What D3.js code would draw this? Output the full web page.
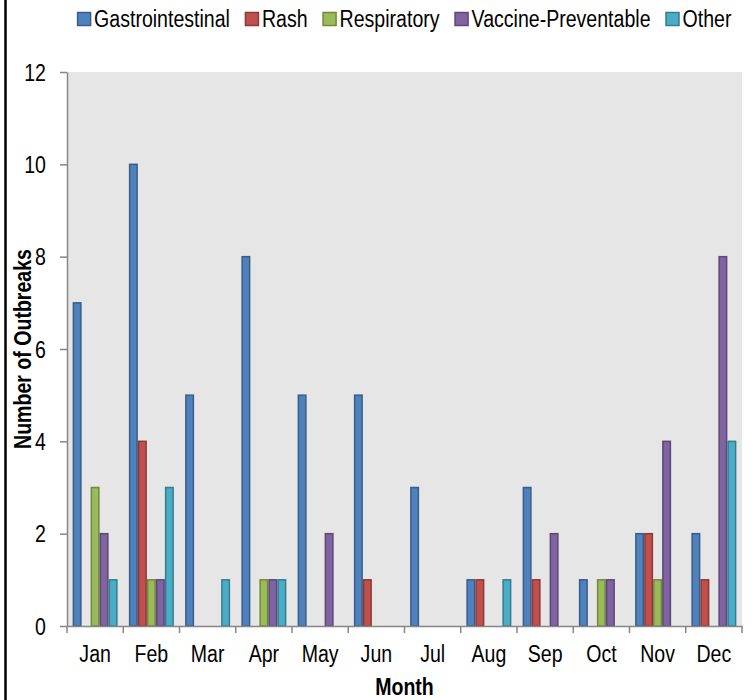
<!DOCTYPE html>
<html lang="en">
<head>
  <meta charset="UTF-8" />
  <title>Outbreaks by Month</title>
  <script src="https://d3js.org/d3.v7.min.js"></script>
  <style>
    body { margin: 0; background: #fff; }
    svg text { font-family: "Liberation Sans", Arial, sans-serif; fill: #000; }
    .axis path, .axis line { stroke: #868686; stroke-width: 1.5px; }
  </style>
</head>
<body>
<svg id="chart" width="753" height="700"></svg>
<script>
const months = ["Jan", "Feb", "Mar", "Apr", "May", "Jun", "Jul", "Aug", "Sep", "Oct", "Nov", "Dec"];
const seriesNames = ["Gastrointestinal", "Rash", "Respiratory", "Vaccine-Preventable", "Other"];
const gastrointestinal = [7, 10, 5, 8, 5, 5, 3, 1, 3, 1, 2, 2];
const rash = [0, 4, 0, 0, 0, 1, 0, 1, 1, 0, 2, 1];
const respiratory = [3, 1, 0, 1, 0, 0, 0, 0, 0, 1, 1, 0];
const vaccinePreventable = [2, 1, 0, 1, 2, 0, 0, 0, 2, 1, 4, 8];
const other = [1, 3, 1, 1, 0, 0, 0, 1, 0, 0, 0, 4];
const yTicks = [0, 2, 4, 6, 8, 10, 12];

const fills = ["#4f81bd", "#c0504d", "#9bbb59", "#8064a2", "#4bacc6"];
const strokes = ["#385d8a", "#8c3836", "#71893f", "#5c4776", "#357d91"];
const seriesValues = [gastrointestinal, rash, respiratory, vaccinePreventable, other];

const svg = d3.select("#chart");
const margin = {left: 67, right: 11, top: 72, bottom: 74};
const width = 753, height = 700;
const squeeze = 0.85;

// no narrow font installed: squeeze the glyphs to an Arial Narrow width
function narrow(sel) {
  sel.each(function () {
    const len = this.getComputedTextLength();
    d3.select(this).attr("textLength", len * squeeze).attr("lengthAdjust", "spacingAndGlyphs");
  });
}

const x = d3.scaleBand().domain(months).range([margin.left, width - margin.right]).padding(0);
const inner = d3.scaleBand().domain(seriesNames)
  .range([x.bandwidth() * 0.1, x.bandwidth() * 0.9]).padding(0);
const y = d3.scaleLinear().domain([0, 12]).range([height - margin.bottom, margin.top]);

// left frame line
svg.append("line").attr("x1", 5.5).attr("x2", 5.5).attr("y1", 0).attr("y2", height)
  .attr("stroke", "#000").attr("stroke-width", 2.5);

// plot background
svg.append("rect")
  .attr("x", margin.left).attr("y", margin.top)
  .attr("width", width - margin.right - margin.left)
  .attr("height", height - margin.bottom - margin.top)
  .attr("fill", "#e6e6e6");

// bars
const rows = months.map((m, i) => seriesNames.map((s, j) => ({month: m, series: s, j: j, value: seriesValues[j][i]})));
svg.append("g").selectAll("g")
  .data(rows)
  .join("g")
    .attr("transform", (d, i) => `translate(${x(months[i])},0)`)
  .selectAll("rect")
  .data(d => d.filter(e => e.value > 0))
  .join("rect")
    .attr("x", d => inner(d.series) + 0.75)
    .attr("width", inner.bandwidth() - 1.5)
    .attr("y", d => y(d.value))
    .attr("height", d => y(0) - y(d.value))
    .attr("fill", d => fills[d.j])
    .attr("stroke", d => strokes[d.j])
    .attr("stroke-width", 1.5);

// y axis
const yAxis = svg.append("g").attr("class", "axis")
  .attr("transform", `translate(${margin.left},0)`)
  .call(d3.axisLeft(y).tickValues(yTicks).tickSize(7).tickSizeOuter(0).tickPadding(14));
yAxis.selectAll("text").style("font-size", "23px").attr("dy", "0.36em").call(narrow);

// x axis
const xAxis = svg.append("g").attr("class", "axis")
  .attr("transform", `translate(0,${y(0)})`)
  .call(d3.axisBottom(x).tickSize(0).tickSizeOuter(0).tickPadding(20));
xAxis.selectAll("text").style("font-size", "23px").call(narrow);
xAxis.selectAll(".bound")
  .data(d3.range(months.length + 1))
  .join("line")
    .attr("x1", i => margin.left + i * x.bandwidth())
    .attr("x2", i => margin.left + i * x.bandwidth())
    .attr("y1", 0).attr("y2", 7)
    .attr("stroke", "#868686").attr("stroke-width", 1.5);

// axis titles
svg.append("text")
  .attr("transform", `translate(31,${(y(0) + y(12)) / 2}) rotate(-90)`)
  .attr("text-anchor", "middle")
  .style("font-size", "23px").style("font-weight", "bold")
  .text("Number of Outbreaks").call(narrow);

svg.append("text")
  .attr("x", (margin.left + width - margin.right) / 2)
  .attr("y", 695)
  .attr("text-anchor", "middle")
  .style("font-size", "23px").style("font-weight", "bold")
  .text("Month").call(narrow);

// legend
const legend = svg.append("g");
let cx = 0;
seriesNames.forEach((name, j) => {
  const item = legend.append("g").attr("transform", `translate(${cx},0)`);
  item.append("rect").attr("x", 0).attr("y", 12.5).attr("width", 13).attr("height", 13)
    .attr("fill", fills[j]).attr("stroke", strokes[j]).attr("stroke-width", 1.5);
  const t = item.append("text").attr("x", 16.5).attr("y", 26.5)
    .style("font-size", "23px").text(name);
  const len = t.node().getComputedTextLength() * squeeze;
  t.attr("textLength", len).attr("lengthAdjust", "spacingAndGlyphs");
  cx += 16.5 + len + 15.5;
});
const legendWidth = cx - 15.5;
legend.attr("transform", `translate(${(margin.left + width - margin.right) / 2 - legendWidth / 2},0)`);
</script>
</body>
</html>
